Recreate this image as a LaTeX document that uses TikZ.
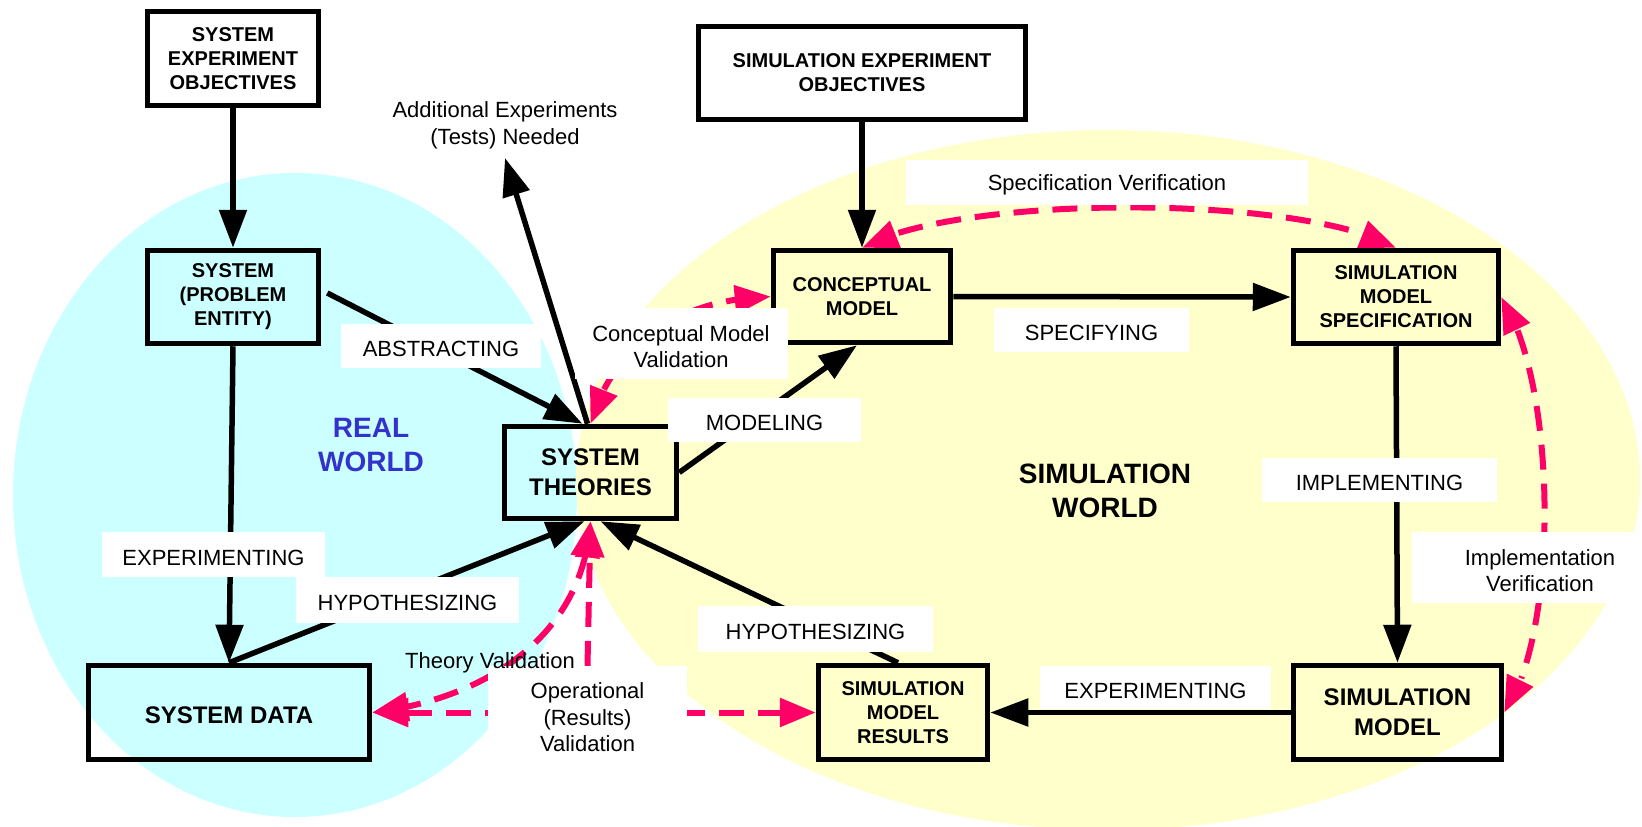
\documentclass[tikz,border=0pt]{standalone}
\usepackage{fontspec}
\setmainfont{Liberation Sans}
\usetikzlibrary{arrows.meta,bending}
\definecolor{cyanbg}{HTML}{CCFFFF}
\definecolor{yellowbg}{HTML}{FFFFCC}
\definecolor{vvpink}{HTML}{FF0066}
\definecolor{worldblue}{HTML}{3333CC}
\pgfdeclarelayer{bg}
\pgfdeclarelayer{lines}
\pgfsetlayers{bg,lines,main}
\begin{document}
\begin{tikzpicture}[x=1pt,y=-1pt,
  box/.style={draw=black, line width=5.5pt, inner sep=0pt, align=center, font=\fontsize{20}{24}\selectfont\bfseries},
  bigbox/.style={box, font=\fontsize{24}{30}\selectfont\bfseries},
  lbl/.style={fill=white, inner sep=0pt},
  lbltext/.style={inner sep=0pt, align=center, font=\fontsize{22}{26.5}\selectfont, yshift=-3pt},
  lt/.style={label={[lbltext]center:{#1}}},
  txt/.style={inner sep=0pt, align=center, font=\fontsize{22}{26.5}\selectfont},
  world/.style={inner sep=0pt, align=center, font=\fontsize{28}{34}\selectfont\bfseries},
  flow/.style={line width=5.5pt, -{Triangle[length=38pt,width=27pt]}},
  vv/.style={draw=vvpink, line width=6pt, dash pattern=on 25pt off 14pt, {Triangle[length=36pt,width=28pt]}-{Triangle[length=36pt,width=28pt]}},
  vvone/.style={draw=vvpink, line width=6pt, dash pattern=on 25pt off 14pt, -{Triangle[length=36pt,width=28pt]}},
]
\useasboundingbox (0,0) rectangle (1642,827);

% boxes
\node[box, minimum width=171pt, minimum height=94pt] (seo) at (233,58.5) {SYSTEM\\EXPERIMENT\\OBJECTIVES};
\node[box, minimum width=171pt, minimum height=93pt] (sys) at (233,297) {SYSTEM\\(PROBLEM\\ENTITY)};
\node[box, minimum width=327pt, minimum height=93pt] (simobj) at (862,73) {SIMULATION EXPERIMENT\\OBJECTIVES};
\node[box, minimum width=177pt, minimum height=92pt] (concept) at (862,296.5) {CONCEPTUAL\\MODEL};
\node[box, minimum width=205pt, minimum height=93pt] (sms) at (1396,297) {SIMULATION\\MODEL\\SPECIFICATION};
\node[bigbox, minimum width=172pt, minimum height=92pt] (theories) at (590.5,472.5) {SYSTEM\\THEORIES};
\node[bigbox, minimum width=281pt, minimum height=94pt] (sdata) at (229,712.5) {\raisebox{-3pt}[\height][\depth]{SYSTEM DATA}};
\node[box, minimum width=169pt, minimum height=94pt] (smr) at (903,712.5) {SIMULATION\\MODEL\\RESULTS};
\node[bigbox, minimum width=208pt, minimum height=94pt] (smodel) at (1397.5,712.5) {SIMULATION\\MODEL};

% labels
\node[lbl, minimum width=200pt, minimum height=44pt, lt={ABSTRACTING}] (labs) at (441,346) {};
\node[lbl, minimum width=213pt, minimum height=71pt, lt={Conceptual Model\\Validation}] (lcmv) at (681,343.5) {};
\node[lbl, minimum width=193pt, minimum height=44pt, lt={MODELING}] (lmod) at (764.5,420) {};
\node[lbl, minimum width=195pt, minimum height=44pt, lt={SPECIFYING}] (lspec) at (1091.5,330) {};
\node[lbl, minimum width=402pt, minimum height=45pt, lt={Specification Verification}] (lsv) at (1107,182) {};
\node[lbl, minimum width=235pt, minimum height=44pt, lt={IMPLEMENTING}] (limp) at (1379.5,480) {};
\node[lbl, minimum width=256pt, minimum height=71pt, lt={Implementation\\Verification}] (liv) at (1540,567.5) {};
\node[lbl, minimum width=223pt, minimum height=45pt, lt={EXPERIMENTING}] (lexp1) at (213.5,554.5) {};
\node[lbl, minimum width=223pt, minimum height=46pt, lt={HYPOTHESIZING}] (lhyp1) at (407.5,600) {};
\node[lbl, minimum width=235pt, minimum height=46pt, lt={HYPOTHESIZING}] (lhyp2) at (815.5,629) {};
\node[lbl, minimum width=231pt, minimum height=43pt, lt={EXPERIMENTING}] (lexp2) at (1155.5,687.5) {};
\node[lbl, minimum width=199pt, minimum height=97pt, lt={Operational\\(Results)\\Validation}] (oplabel) at (587.5,714.5) {};
\node[txt] (ltv) at (490,663) {Theory Validation};
\node[txt] (addl) at (505,125.5) {Additional Experiments\\(Tests) Needed};
\coordinate (addtip) at (505,158);
\node[world, text=worldblue] (rw) at (371,444.5) {REAL\\WORLD};
\node[world] (sw) at (1105,491) {SIMULATION\\WORLD};

\begin{pgfonlayer}{bg}
\fill[white] (0,0) rectangle (1642,827);
\fill[cyanbg] (295,495) ellipse [x radius=282pt, y radius=322pt];
\fill[yellowbg] (1108,480) ellipse [x radius=532pt, y radius=350pt];
\end{pgfonlayer}

\begin{pgfonlayer}{lines}
\draw[flow] (seo.south) -- (sys.north);
\draw[flow] (simobj.south) -- (concept.north);
\draw[flow] (concept.east) -- (sms.west);
\draw[flow] (sms.south) -- (smodel.north);
\draw[flow] (smodel.west) -- (smr.east);
\draw[flow] (sys.south) -- (sdata.north);
\draw[flow] ([xshift=6pt,yshift=4pt]sys.east) -- ([xshift=-8pt]theories.north);
\draw[flow] (sdata.north) -- ([xshift=-6pt]theories.south);
\draw[flow] ([xshift=-5pt]smr.north) -- ([xshift=10pt]theories.south);
\draw[flow] (theories.east) -- ([xshift=-5pt]concept.south);
\draw[flow] ([xshift=-3pt]theories.north) -- (addtip);

\draw[vv] (theories.north) .. controls (605,372) and (650,300) .. (concept.west);
\draw[vv] (concept.north) .. controls (957,194) and (1301,194) .. (sms.north);
\draw[vv] (sms.east) .. controls (1558,385) and (1559,634) .. (smodel.east);
\draw[vv] (theories.south) .. controls (583,640) and (480,700) .. (sdata.east);
\draw[vv] (sdata.east) -- (smr.west);
\draw[vvone] (oplabel.north) -- (theories.south);
\end{pgfonlayer}
\end{tikzpicture}
\end{document}
